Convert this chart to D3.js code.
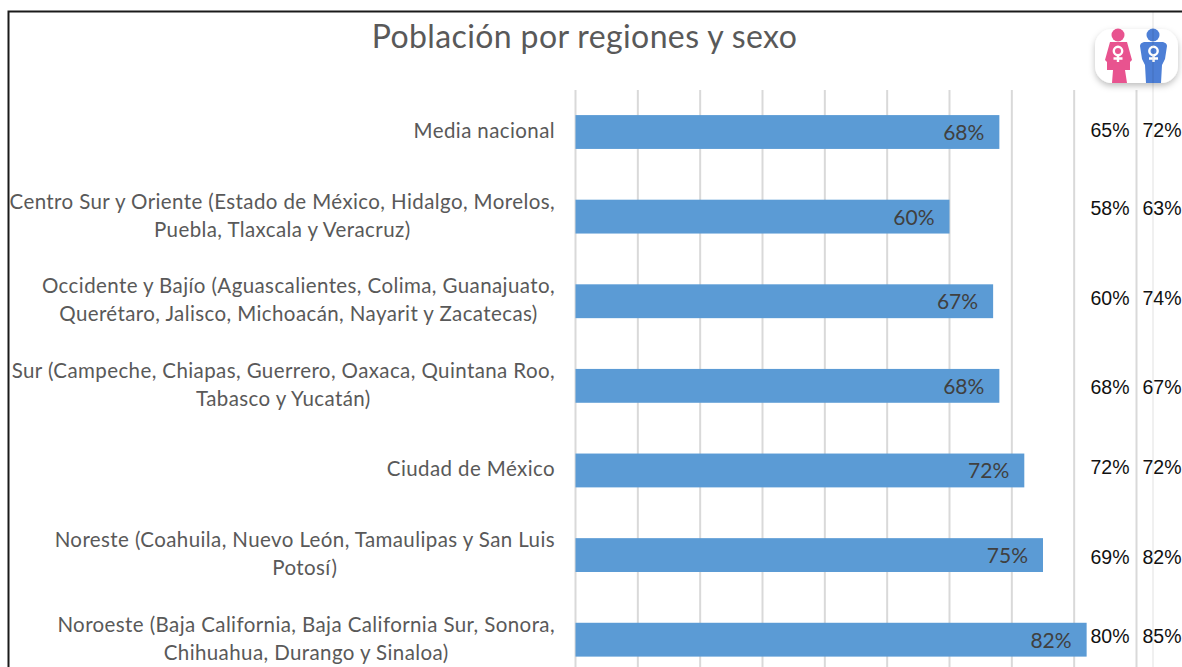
<!DOCTYPE html>
<html><head><meta charset="utf-8">
<script src="https://cdn.jsdelivr.net/npm/d3@7"></script>
<style>html,body{margin:0;padding:0;background:#fff;overflow:hidden}svg{display:block}</style>
</head><body><svg id="c" width="1182" height="667"></svg>
<script>
const chartTitle = "Población por regiones y sexo";
const categories = [
  ["Media nacional"],
  ["Centro Sur y Oriente (Estado de México, Hidalgo, Morelos,","Puebla, Tlaxcala y Veracruz)"],
  ["Occidente y Bajío (Aguascalientes, Colima, Guanajuato,","Querétaro, Jalisco, Michoacán, Nayarit y Zacatecas)"],
  ["Sur (Campeche, Chiapas, Guerrero, Oaxaca, Quintana Roo,","Tabasco y Yucatán)"],
  ["Ciudad de México"],
  ["Noreste (Coahuila, Nuevo León, Tamaulipas y San Luis","Potosí)"],
  ["Noroeste (Baja California, Baja California Sur, Sonora,","Chihuahua, Durango y Sinaloa)"]
];
const totals = [68, 60, 67, 68, 72, 75, 82];
const women  = [65, 58, 60, 68, 72, 69, 80];
const men    = [72, 63, 74, 67, 72, 82, 85];
const gridTicks = [0,10,20,30,40,50,60,70,80,90];

const svg = d3.select("#c");
const x = d3.scaleLinear().domain([0,90]).range([575.5,1136.5]);
const y = d3.scaleBand().domain(d3.range(categories.length)).range([89.7,682]).paddingInner(0.6).paddingOuter(0.3);
const font = "Lato, 'Open Sans', sans-serif";
const defs = svg.append("defs");
const f = defs.append("filter").attr("id","sh").attr("x","-20%").attr("y","-20%").attr("width","140%").attr("height","150%");
f.append("feDropShadow").attr("dx",0).attr("dy",3).attr("stdDeviation",3).attr("flood-color","#000").attr("flood-opacity",0.25);

// frame
svg.append("path").attr("d","M8.5,667V11.5H1182").attr("fill","none").attr("stroke","#1a1a1a").attr("stroke-width",2);

// grid
svg.append("g").selectAll("line").data(gridTicks).join("line")
  .attr("x1",d=>x(d)).attr("x2",d=>x(d)).attr("y1",90).attr("y2",667)
  .attr("stroke","#d9d9d9").attr("stroke-width",2);

// title
svg.append("text").attr("x",584.5).attr("y",48).attr("text-anchor","middle")
  .attr("font-family",font).attr("font-size",32).attr("letter-spacing",0.38).attr("fill","#595959").text(chartTitle);

// bars
svg.append("g").selectAll("rect").data(totals).join("rect")
  .attr("x",x(0)).attr("y",(d,i)=>y(i)).attr("width",d=>x(d)-x(0)).attr("height",y.bandwidth())
  .attr("fill","#5b9bd5");
// bar labels
svg.append("g").selectAll("text").data(totals).join("text")
  .attr("x",d=>x(d)-15).attr("y",(d,i)=>y(i)+y.bandwidth()/2+8).attr("text-anchor","end")
  .attr("font-family",font).attr("font-size",21).attr("fill","#404040").text(d=>d+"%");

// category labels: the block ends at the axis gap, lines are centred within it
categories.forEach((lines,i)=>{
  const c = y(i)+y.bandwidth()/2;
  const t = svg.append("text").attr("text-anchor","middle").attr("font-family",font).attr("font-size",20.5)
    .attr("letter-spacing",0.4).attr("fill","#595959");
  const spans = lines.map((l,k)=> t.append("tspan").attr("y",c+6+(k-(lines.length-1)/2)*28).text(l));
  spans.forEach(s=>s.attr("x",0));
  const w = d3.max(spans,s=>s.node().getComputedTextLength());
  spans.forEach(s=>s.attr("x",555-w/2));
});

// side values (hand-placed in the original, slightly off the bar centres)
const sideFont = "'Liberation Sans', Arial, sans-serif";
const sideShift = [-2,-8,-3,2,-3,2,-3];
[[women,1110],[men,1162]].forEach(([arr,cx])=>{
  svg.append("g").selectAll("text").data(arr).join("text")
    .attr("x",cx).attr("y",(d,i)=>y(i)+y.bandwidth()/2+6.5+sideShift[i]).attr("text-anchor","middle")
    .attr("font-family",sideFont).attr("font-size",19.5).attr("fill","#111").text(d=>d+"%");
});

// icon
const ic = svg.append("g").attr("transform","translate(1095,29)");
ic.append("rect").attr("width",83).attr("height",54).attr("rx",17).attr("fill","#fff").attr("filter","url(#sh)");
const pink="#e8538f", blue="#4d7fd6";
ic.append("circle").attr("cx",23).attr("cy",6).attr("r",6.5).attr("fill",pink);
ic.append("path").attr("fill",pink).attr("d","M15,13H32L37,31L35,33L35,41L30,41L32,54H17L18,41L12,41L12,33L10,31Z");
ic.append("circle").attr("cx",58).attr("cy",6).attr("r",6.5).attr("fill",blue);
ic.append("path").attr("fill",blue).attr("d","M49,13H68Q72,14 72,17L70,30L67,36L66,54H51L50,36L47,30L45,17Q45,14 49,13Z");
[23,58.5].forEach(cx=>{
  const g = ic.append("g").attr("fill","none").attr("stroke","#fff").attr("stroke-width",2.4);
  g.append("circle").attr("cx",cx).attr("cy",22).attr("r",4.2);
  g.append("path").attr("d",`M${cx},26V33M${cx-4.5},29.5H${cx+4.5}`);
});

// faint seam over everything
svg.append("line").attr("x1",1153).attr("x2",1153).attr("y1",12).attr("y2",667).attr("stroke","#000").attr("stroke-opacity",0.06).attr("stroke-width",2);
</script></body></html>
